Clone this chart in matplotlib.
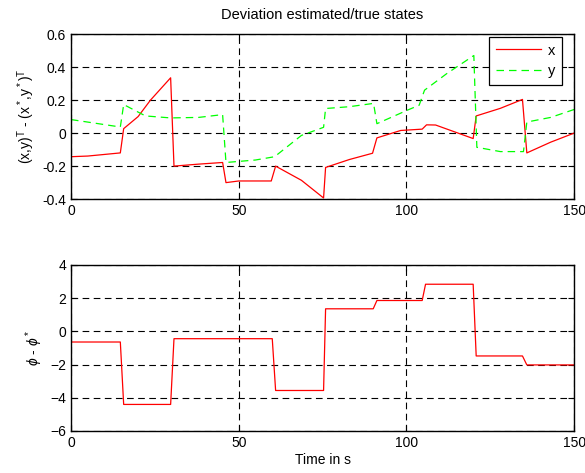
import matplotlib
matplotlib.use("Agg")
import matplotlib.pyplot as plt

plt.rcParams['font.family'] = ['Liberation Sans', 'DejaVu Sans']
plt.rcParams['mathtext.fontset'] = 'custom'
plt.rcParams['mathtext.rm'] = 'Liberation Sans'
plt.rcParams['mathtext.it'] = 'Liberation Sans:italic'

# position error, x component
t_x = [0, 5, 14.7, 15.7, 20, 23.7, 29.7, 30.7, 38, 45.2, 46.2, 50, 59.7, 61,
       68.7, 75.3, 75.9, 83, 89.9, 91.2, 98.3, 104.7, 106, 108.7, 119.9,
       120.8, 128, 134.6, 135.9, 143, 150]
dx = [-0.143, -0.139, -0.12, 0.027, 0.1, 0.2, 0.335, -0.2, -0.188, -0.178,
      -0.3, -0.29, -0.29, -0.2, -0.286, -0.393, -0.208, -0.16, -0.122, -0.029,
      0.016, 0.024, 0.05, 0.049, -0.033, 0.104, 0.15, 0.204, -0.12, -0.055, 0.0]

# position error, y component
t_y = [0, 14.7, 15.7, 22.2, 29.7, 38, 45.2, 46.2, 55, 60.7, 68.7, 75.3,
       75.9, 83, 90.2, 91.2, 100.3, 103.8, 105.4, 112, 120.1, 121, 128,
       134.9, 135.9, 143, 150]
dy = [0.082, 0.037, 0.173, 0.104, 0.092, 0.095, 0.112, -0.178, -0.163, -0.143,
      -0.014, 0.035, 0.149, 0.16, 0.18, 0.057, 0.139, 0.169, 0.26, 0.36, 0.47,
      -0.086, -0.112, -0.112, 0.067, 0.095, 0.143]

# heading error
t_phi = [0, 14.7, 15.7, 29.7, 30.7, 60, 61, 75.3, 75.9, 90.1, 91.2, 104.7,
         105.7, 119.9, 120.8, 134.6, 135.9, 150]
dphi = [-0.64, -0.64, -4.4, -4.4, -0.44, -0.44, -3.56, -3.56, 1.36, 1.36,
        1.86, 1.86, 2.84, 2.84, -1.48, -1.48, -2.02, -2.02]

fig = plt.figure(figsize=(5.85, 4.73), dpi=100)
ax1 = fig.add_axes([0.1214, 0.579, 0.860, 0.349])
ax2 = fig.add_axes([0.1214, 0.0888, 0.860, 0.351])

grid_style = dict(color='black', linestyle=(0, (6, 4)), linewidth=0.8)

ax1.plot(t_x, dx, color='red', linewidth=0.9, label='x')
ax1.plot(t_y, dy, color='#00ff00', linewidth=0.9, linestyle=(0, (6, 4)), label='y')
ax1.set_xlim(0, 150)
ax1.set_ylim(-0.4, 0.6)
ax1.set_xticks([0, 50, 100, 150])
ax1.set_yticks([-0.4, -0.2, 0, 0.2, 0.4, 0.6])
ax1.set_yticklabels(['-0.4', '-0.2', '0', '0.2', '0.4', '0.6'])
ax1.grid(True, **grid_style)
ax1.set_title('Deviation estimated/true states', fontsize=10.5, pad=11)
ax1.set_ylabel(r'(x,y)$^\mathrm{T}$ - (x$^*$,y$^*$)$^\mathrm{T}$', fontsize=10)
leg = ax1.legend(loc='upper right', bbox_to_anchor=(0.976, 0.982), borderaxespad=0,
                 fontsize=10.5, fancybox=False, framealpha=1, edgecolor='black',
                 handlelength=3.1, handletextpad=0.5, borderpad=0.45,
                 labelspacing=0.45)
leg.get_frame().set_linewidth(0.9)

ax2.plot(t_phi, dphi, color='red', linewidth=0.9)
ax2.set_xlim(0, 150)
ax2.set_ylim(-6, 4)
ax2.set_xticks([0, 50, 100, 150])
ax2.set_yticks([-6, -4, -2, 0, 2, 4])
ax2.grid(True, **grid_style)
ax2.set_ylabel(r'$\phi$ - $\phi^*$', fontsize=10)
ax2.set_xlabel('Time in s', fontsize=10, labelpad=2)

for ax in (ax1, ax2):
    ax.tick_params(direction='in', length=4, labelsize=10, top=True, right=True)
    for s in ax.spines.values():
        s.set_linewidth(1.0)

fig.savefig('out.png', dpi=100)
